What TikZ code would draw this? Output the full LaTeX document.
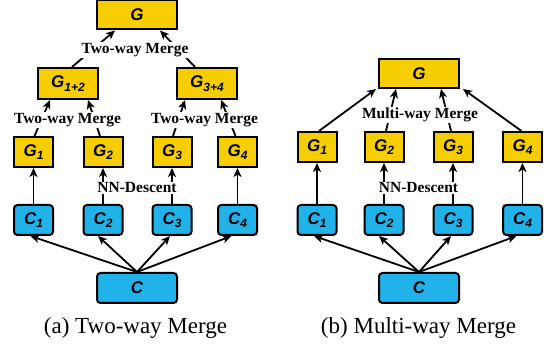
\documentclass[tikz,border=0pt]{standalone}
\usepackage{fontspec}
\setmainfont{Liberation Serif}
\newfontfamily\boxfont{Liberation Sans}
\usetikzlibrary{arrows.meta}
\definecolor{gyellow}{HTML}{F5CD00}
\definecolor{cblue}{HTML}{20B2E8}
\tikzset{
  gbox/.style={draw=black, line width=2pt, fill=gyellow, inner sep=0pt,
    font=\boxfont\bfseries\itshape\fontsize{17}{17}\selectfont},
  cbox/.style={gbox, fill=cblue, rounded corners=3.5pt},
  small/.style={minimum width=39pt, minimum height=30pt},
  wide/.style={minimum width=80pt, minimum height=29pt},
  mid/.style={minimum width=60pt, minimum height=31pt},
  arr/.style={line width=1.8pt, -{Stealth[length=9pt,width=8pt,inset=2.5pt]}},
  lbl/.style={fill=white, inner sep=1pt, font=\bfseries\fontsize{15.5}{16}\selectfont},
  capt/.style={font=\fontsize{23}{24}\selectfont}
}
\newcommand{\sbs}[1]{\raisebox{-3.5pt}{\fontsize{12}{12}\selectfont #1}}
\begin{document}
\begin{tikzpicture}[x=1pt, y=-1pt]
\useasboundingbox (0,0) rectangle (552,347);

% ---------- (a) two-way merge ----------
\node[gbox, wide] (aG) at (137,15) {G};
\node[gbox, mid] (aG12) at (68,83.5) {G\sbs{1+2}};
\node[gbox, mid] (aG34) at (207,83.5) {G\sbs{3+4}};
\foreach \i/\x in {1/33.5, 2/103, 3/172, 4/237.5} {
  \node[gbox, small] (aG\i) at (\x,152) {G\sbs{\i}};
  \node[cbox, small] (aC\i) at (\x,220) {C\sbs{\i}};
}
\node[cbox, wide, minimum height=30pt] (aC) at (137,288) {C};

\foreach \i/\d in {1/-3, 2/-5, 3/-2, 4/-6} {
  \draw[arr] (aC.north) -- ([xshift=\d pt]aC\i.south);
  \draw[arr] (aC\i.north) -- (aG\i.south);
}
\draw[arr] ([xshift=1pt]aG1.north) -- ([xshift=-18pt]aG12.south);
\draw[arr] ([xshift=-3pt]aG2.north) -- ([xshift=20pt]aG12.south);
\draw[arr] ([xshift=1pt]aG3.north) -- ([xshift=-22pt]aG34.south);
\draw[arr] ([xshift=-2pt]aG4.north) -- ([xshift=14pt]aG34.south);
\draw[arr] ([xshift=4pt]aG12.north) -- ([xshift=-22pt]aG.south);
\draw[arr] ([xshift=-12pt]aG34.north) -- ([xshift=23pt]aG.south);

\node[lbl] (aM) at (135,50) {Two-way Merge};
\node[lbl] (aM12) at (67.5,120) {Two-way Merge};
\node[lbl] (aM34) at (204.5,120) {Two-way Merge};
\node[lbl] (aNN) at (137,188) {NN-Descent};
\node[capt] (acap) at (135.5,328) {(a) Two-way Merge};

% ---------- (b) multi-way merge ----------
\node[gbox, wide] (bG) at (419,73.5) {G};
\foreach \i/\x in {1/317, 2/384, 3/453, 4/522.5} {
  \node[gbox, small] (bG\i) at (\x,147) {G\sbs{\i}};
  \node[cbox, small] (bC\i) at (\x,220) {C\sbs{\i}};
}
\node[cbox, wide, minimum height=30pt] (bC) at (419,288) {C};

\foreach \i/\d in {1/-3, 2/-5, 3/-2, 4/-6} {
  \draw[arr] (bC.north) -- ([xshift=\d pt]bC\i.south);
  \draw[arr] (bC\i.north) -- (bG\i.south);
}
\draw[arr] ([xshift=2pt]bG1.north) -- ([xshift=-43pt]bG.south);
\draw[arr] ([xshift=2pt]bG2.north) -- ([xshift=-23pt]bG.south);
\draw[arr] ([xshift=-2pt]bG3.north) -- ([xshift=22pt]bG.south);
\draw[arr] ([xshift=-1pt]bG4.north) -- ([xshift=44pt]bG.south);

\node[lbl] (bM) at (420,115) {Multi-way Merge};
\node[lbl] (bNN) at (418.5,188) {NN-Descent};
\node[capt] (bcap) at (418.5,328) {(b) Multi-way Merge};
\end{tikzpicture}
\end{document}
